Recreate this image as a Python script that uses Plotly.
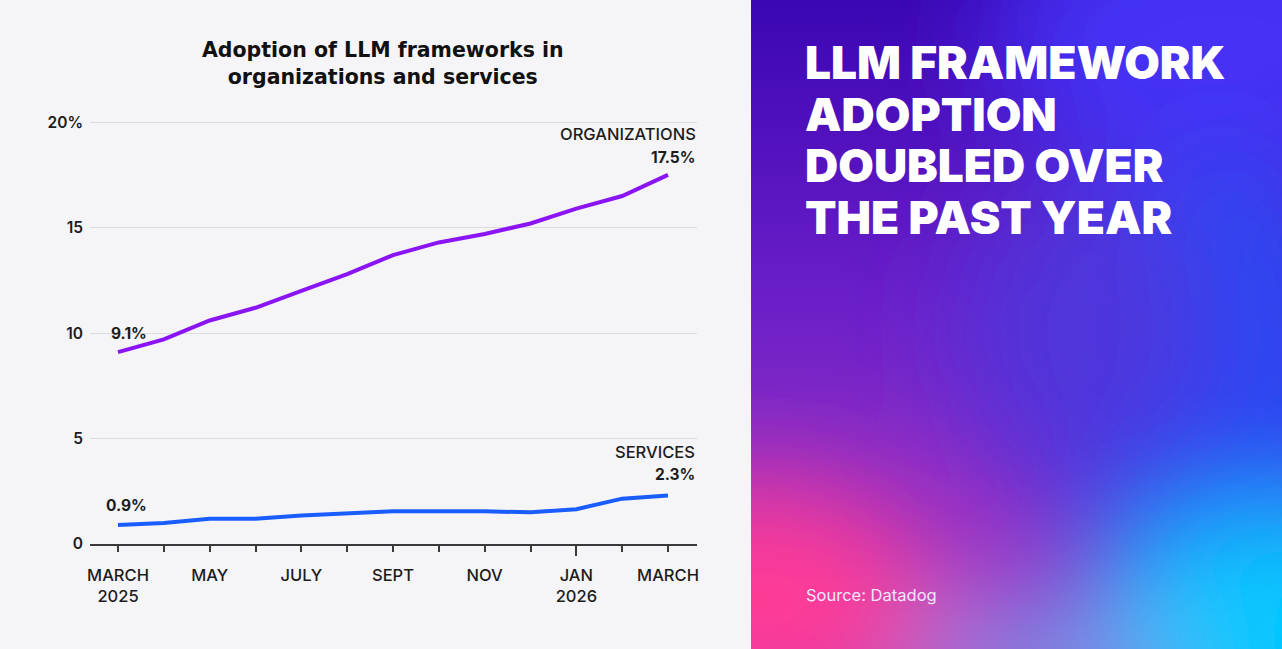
import base64
import plotly.graph_objects as go

# Donnees
months = ["MARCH<br>2025", "APR", "MAY", "JUNE", "JULY", "AUG", "SEPT",
          "OCT", "NOV", "DEC", "JAN<br>2026", "FEB", "MARCH"]
labeled = [True, False, True, False, True, False, True, False, True, False, True, False, True]
organizations = [9.1, 9.7, 10.6, 11.2, 12.0, 12.8, 13.7, 14.3, 14.7, 15.2, 15.9, 16.5, 17.5]
services = [0.9, 1.0, 1.2, 1.2, 1.35, 1.45, 1.55, 1.55, 1.55, 1.5, 1.65, 2.15, 2.3]
y_ticks = [0, 5, 10, 15, 20]
y_ticktext = ["0", "5", "10", "15", "20%"]

chart_title = "Adoption of LLM frameworks in<br>organizations and services"
headline = ["LLM FRAMEWORK", "ADOPTION", "DOUBLED OVER", "THE PAST YEAR"]
source = "Source: Datadog"

x = list(range(len(months)))

# Taille de la figure et zone de trace (pixels)
W, H = 1282, 649
Y_TOP = 20.2                      # un peu au-dessus de 20 pour garder la grille du haut
L, R, B = 90, 585, 105
T = round(544 - Y_TOP * (544 - 122) / 20)
pw, ph = W - L - R, H - T - B


def px(xp, yp):
    # pixel -> coordonnees paper
    return (xp - L) / pw, 1 - (yp - T) / ph


# Fond degrade du panneau de droite (svg)
svg = """<svg xmlns='http://www.w3.org/2000/svg' width='532' height='649' viewBox='0 0 532 649' preserveAspectRatio='none'>
<defs>
<linearGradient id='g' x1='0' y1='0' x2='0' y2='1'>
<stop offset='0' stop-color='#3b06b4'/>
<stop offset='0.45' stop-color='#6a1ec8'/>
<stop offset='1' stop-color='#a43cc4'/>
</linearGradient>
<filter id='b' x='-60%' y='-60%' width='220%' height='220%'><feGaussianBlur stdDeviation='55'/></filter>
</defs>
<rect width='532' height='649' fill='url(#g)'/>
<g filter='url(#b)'>
<ellipse cx='470' cy='40' rx='230' ry='150' fill='#4430f4'/>
<ellipse cx='470' cy='390' rx='170' ry='230' fill='#2a46f2'/>
<ellipse cx='330' cy='330' rx='120' ry='150' fill='#5034dc'/>
<ellipse cx='10' cy='600' rx='170' ry='120' fill='#ff3b96'/>
<ellipse cx='530' cy='640' rx='190' ry='130' fill='#00c8ff'/>
<ellipse cx='300' cy='660' rx='140' ry='40' fill='#70a8f0'/>
</g>
</svg>"""
svg_uri = "data:image/svg+xml;base64," + base64.b64encode(svg.encode()).decode()

fig = go.Figure()

fig.add_trace(go.Scatter(x=x, y=organizations, mode="lines", name="ORGANIZATIONS",
                         line=dict(color="#8b14f5", width=4), hoverinfo="y"))
fig.add_trace(go.Scatter(x=x, y=services, mode="lines", name="SERVICES",
                         line=dict(color="#1a5dff", width=4), hoverinfo="y"))

lab_font = dict(family="Inter", size=16.5, color="#1c1c1c", weight=500)
num_font = dict(family="Inter", size=15.5, color="#1c1c1c", weight=700)

annotations = [
    dict(x=x[-1], y=organizations[-1], text="ORGANIZATIONS", xanchor="right", yanchor="middle",
         xshift=30, yshift=41, font=lab_font),
    dict(x=x[-1], y=organizations[-1], text=f"{organizations[-1]}%", xanchor="right", yanchor="middle",
         xshift=30, yshift=17, font=num_font),
    dict(x=x[0], y=organizations[0], text=f"{organizations[0]}%", xanchor="left", yanchor="middle",
         xshift=-9, yshift=19, font=num_font),
    dict(x=x[-1], y=services[-1], text="SERVICES", xanchor="right", yanchor="middle",
         xshift=29, yshift=44, font=lab_font),
    dict(x=x[-1], y=services[-1], text=f"{services[-1]}%", xanchor="right", yanchor="middle",
         xshift=29, yshift=21, font=num_font),
    dict(x=x[0], y=services[0], text=f"{services[0]}%", xanchor="left", yanchor="middle",
         xshift=-14, yshift=20, font=num_font),
]
for a in annotations:
    a.update(xref="x", yref="y", showarrow=False)

# titre du graphique
tx, ty = px(383, 63)
annotations.append(dict(x=tx, y=ty, xref="paper", yref="paper", text=chart_title, showarrow=False,
                        xanchor="center", yanchor="middle", align="center",
                        font=dict(family="DejaVu Sans", size=20.5, color="#111111", weight=700)))

# titre a droite, une annotation par ligne
for i, line in enumerate(headline):
    hx, hy = px(803, 62 + i * 51.7)
    annotations.append(dict(x=hx, y=hy, xref="paper", yref="paper", text=line, showarrow=False,
                            xanchor="left", yanchor="middle",
                            font=dict(family="Inter", size=46, color="#ffffff", weight=900)))

sx, sy = px(804, 595)
annotations.append(dict(x=sx, y=sy, xref="paper", yref="paper", text=source, showarrow=False,
                        xanchor="left", yanchor="middle",
                        font=dict(family="Inter", size=16.5, color="#f2e6ff")))

ix, iy = px(751, 0)
fig.add_layout_image(dict(source=svg_uri, xref="paper", yref="paper", x=ix, y=iy,
                          sizex=(W - 751) / pw, sizey=H / ph, sizing="stretch",
                          xanchor="left", yanchor="top", layer="below"))

unit = 550 / (len(x) - 1)
x_lo = x[0] - (118 - L) / unit
x_hi = x[-1] + (697 - 668) / unit

fig.update_layout(
    width=W, height=H,
    margin=dict(l=L, r=R, t=T, b=B, pad=0),
    paper_bgcolor="#f5f5f7",
    plot_bgcolor="#f5f5f7",
    showlegend=False,
    annotations=annotations,
    xaxis=dict(
        range=[x_lo, x_hi],
        tickvals=x,
        ticktext=[m if show else "" for m, show in zip(months, labeled)],
        ticks="outside", ticklen=6, tickwidth=1.5, tickcolor="#3a3a3a",
        showline=True, linecolor="#3a3a3a", linewidth=1.5,
        showgrid=False, zeroline=False,
        tickfont=dict(family="Inter", size=16.5, color="#1c1c1c", weight=500),
        ticklabelstandoff=9,
        fixedrange=True,
    ),
    xaxis2=dict(
        overlaying="x", matches="x", side="bottom",
        tickvals=[x[months.index("JAN<br>2026")]], ticks="outside", ticklen=11, tickwidth=1.5,
        tickcolor="#3a3a3a", showticklabels=False, showgrid=False, zeroline=False, showline=False,
    ),
    yaxis=dict(
        range=[0, Y_TOP],
        tickvals=y_ticks, ticktext=y_ticktext,
        showgrid=True, gridcolor="#dcdce0", gridwidth=1,
        zeroline=False, ticks="",
        tickfont=dict(family="Inter", size=15.5, color="#1c1c1c", weight=600),
        ticklabelstandoff=6,
        fixedrange=True,
    ),
)

# trace invisible pour afficher xaxis2
fig.add_trace(go.Scatter(x=[x[0]], y=[None], xaxis="x2", showlegend=False, hoverinfo="skip"))

fig.write_html("out.html", config={"displayModeBar": False},
               post_script="document.body.style.margin='0';")
